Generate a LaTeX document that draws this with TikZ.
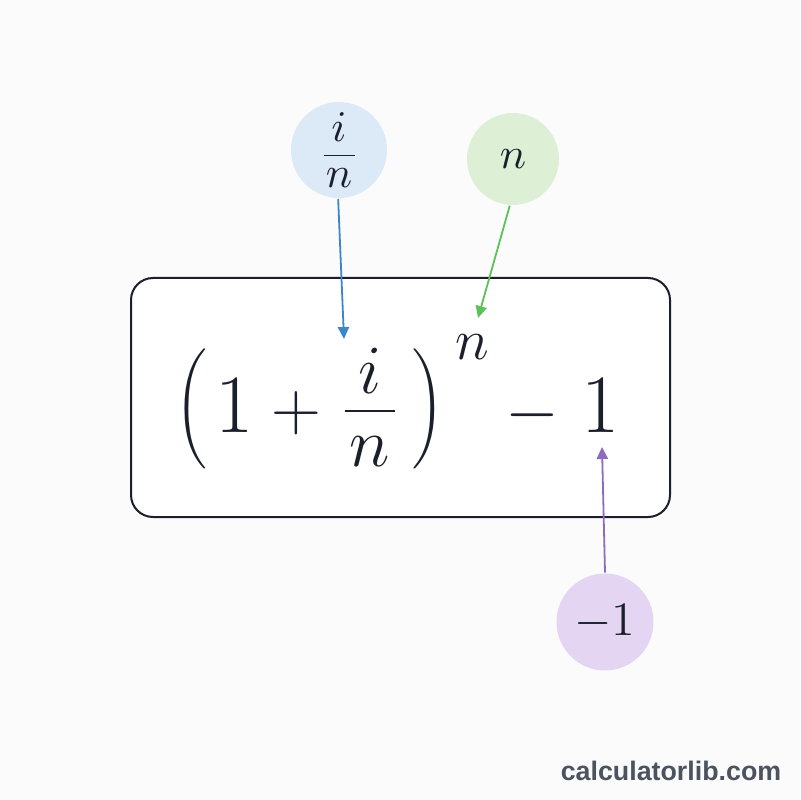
\documentclass[tikz,border=0pt]{standalone}
\usepackage{fontspec}
\newfontfamily\wmfont{Liberation Sans}
\usetikzlibrary{arrows.meta}
\definecolor{bgc}{HTML}{FBFBFB}
\definecolor{bluefill}{HTML}{DCEAF8}
\definecolor{greenfill}{HTML}{DDF0D6}
\definecolor{purplefill}{HTML}{E4D6F3}
\definecolor{blueline}{HTML}{3C87C9}
\definecolor{greenline}{HTML}{5CC15A}
\definecolor{purpleline}{HTML}{8D6BC1}
\definecolor{wmgray}{HTML}{4B5260}
\definecolor{ink}{HTML}{1A1F2B}
% width, gap above rule, rule thickness, gap below rule, numerator, denominator
\newcommand{\barfrac}[6]{\vbox{\offinterlineskip\hbox to #1{\hfil$#5$\hfil}\kern#2\hrule height #3\kern#4\hbox to #1{\hfil$#6$\hfil}}}
% delimiter of a chosen size
\newcommand{\sizeddelim}[2]{$\left#1\vcenter to #2{}\right.$}
\begin{document}
\begin{tikzpicture}[x=0.25pt,y=-0.25pt,
  bubble/.style={circle,inner sep=0pt,text=ink},
  pointer/.style={line width=0.45pt,-{Triangle[length=3pt,width=2.8pt]}}]
\fill[bgc] (0,0) rectangle (800,800);
\useasboundingbox (0,0) rectangle (800,800);
\draw[line width=0.5pt,draw=ink,fill=white,rounded corners=5.5pt] (131,278) rectangle (670,517);
\node[text=ink,anchor=base west,inner sep=0pt] (formula) at (175,432) {%
\fontsize{18}{21}\selectfont\raisebox{1.5pt}{\sizeddelim{(}{31pt}}\hspace{0.9pt}%
\fontsize{21}{25}\selectfont$1$\hspace{4.5pt}%
\fontsize{17}{20}\selectfont\raisebox{0.5pt}{$+$}\hspace{5.75pt}%
\fontsize{17.5}{21}\selectfont\raisebox{-8.75pt}{\barfrac{12.5pt}{4.2pt}{0.6pt}{6.2pt}{i}{n}}\hspace{4.5pt}%
\fontsize{18}{21}\selectfont\raisebox{1.5pt}{\sizeddelim{)}{31pt}}\hspace{1.6pt}%
\fontsize{13.4}{16}\selectfont\raisebox{18pt}{$n$}\hspace{4.1pt}%
\fontsize{18.5}{22}\selectfont$-$\hspace{5.6pt}%
\fontsize{21}{25}\selectfont$1$};
\node[bubble,fill=bluefill,minimum size=24pt] (bc) at (339,150) {\fontsize{10.5}{12}\selectfont\barfrac{7.75pt}{3.3pt}{0.4pt}{3pt}{i}{n}};
\node[bubble,fill=greenfill,minimum size=23pt] (gc) at (513,159) {\fontsize{11}{13}\selectfont$n$};
\node[bubble,fill=purplefill,minimum size=24.25pt] (pc) at (605,622) {\fontsize{11.5}{13}\selectfont$-1$};
\coordinate (tipb) at (344,339);
\coordinate (tipg) at (478,318);
\coordinate (tipp) at (602,447);
\draw[pointer,blueline] (bc.-91) -- (tipb);
\draw[pointer,greenline] (gc.-94) -- (tipg);
\draw[pointer,purpleline] (pc.90) -- (tipp);
\node[anchor=base east,text=wmgray,inner sep=0pt] (wm) at (782,780) {\wmfont\bfseries\fontsize{6.7}{8}\selectfont calculatorlib.com};
\end{tikzpicture}
\end{document}
